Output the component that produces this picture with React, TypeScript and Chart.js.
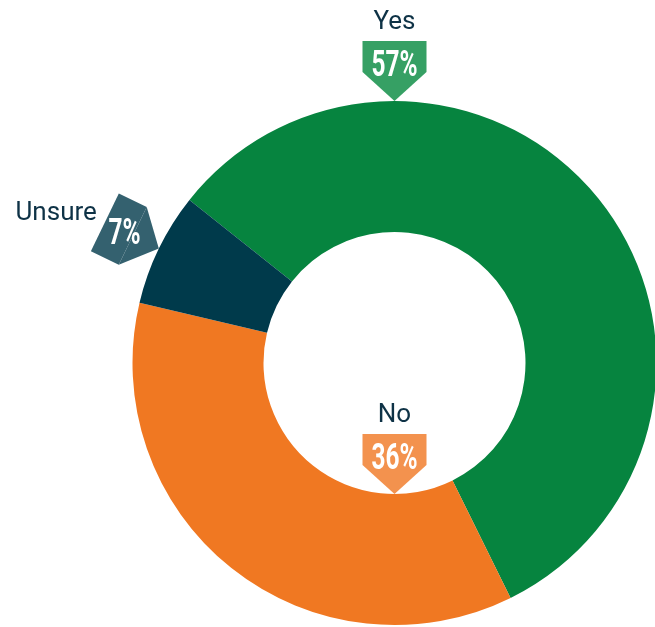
import React, { useEffect, useRef } from "react";
import { Chart, registerables } from "chart.js";

Chart.register(...registerables);

// ---- data ----
const categories = ["Yes", "No", "Unsure"];
const shares = [57, 36, 7];
const sliceColors = ["#06843F", "#F07822", "#003A4B"];
const badgeColors = ["#36A064", "#F3924E", "#34616F"];
const startRotationDeg = -51.5;

// badge placement rules (per category)
const badgeAnchors = ["outerTop", "innerBottom", "outerMid"];
const labelSides = ["above", "above", "left"];

const badgePlugin = {
  id: "badges",
  afterDatasetsDraw(chart: any) {
    const ctx = chart.ctx as CanvasRenderingContext2D;
    const meta = chart.getDatasetMeta(0);
    meta.data.forEach((arc: any, i: number) => {
      const { x, y, startAngle, endAngle, outerRadius, innerRadius } = arc.getProps(
        ["x", "y", "startAngle", "endAngle", "outerRadius", "innerRadius"],
        true
      );
      let a: number, r: number, theta: number;
      const anchor = badgeAnchors[i];
      if (anchor === "outerTop") {
        a = -Math.PI / 2;
        r = outerRadius;
        theta = a + Math.PI / 2;
      } else if (anchor === "innerBottom") {
        a = Math.PI / 2;
        r = innerRadius;
        theta = a - Math.PI / 2;
      } else {
        a = (startAngle + endAngle) / 2;
        r = outerRadius;
        theta = a + Math.PI / 2;
      }
      const tx = x + r * Math.cos(a);
      const ty = y + r * Math.sin(a);

      // badge shape
      ctx.save();
      ctx.translate(tx, ty);
      ctx.rotate(theta);
      ctx.fillStyle = badgeColors[i];
      ctx.fillRect(-32, -60, 64, 31);
      ctx.beginPath();
      ctx.moveTo(-32, -29);
      ctx.lineTo(32, -29);
      ctx.lineTo(0, 0);
      ctx.closePath();
      ctx.fill();
      ctx.restore();

      // percent text (unrotated)
      const lx = 0;
      const ly = -38;
      const cx = tx + lx * Math.cos(theta) - ly * Math.sin(theta);
      const cy = ty + lx * Math.sin(theta) + ly * Math.cos(theta);
      ctx.save();
      ctx.translate(cx, cy);
      ctx.scale(0.66, 1);
      ctx.font = "bold 37px Roboto";
      ctx.fillStyle = "#ffffff";
      ctx.textAlign = "center";
      ctx.textBaseline = "alphabetic";
      ctx.fillText(`${shares[i]}%`, 0, 12.5);
      ctx.restore();

      // category label
      ctx.save();
      ctx.font = "26px Roboto";
      ctx.fillStyle = "#0E3246";
      ctx.textBaseline = "alphabetic";
      if (labelSides[i] === "above") {
        ctx.textAlign = "center";
        ctx.fillText(categories[i], tx, ty - 72);
      } else {
        ctx.textAlign = "right";
        ctx.fillText(categories[i], tx - 62, ty - 29);
      }
      ctx.restore();
    });
  },
};

export default function App() {
  const canvasRef = useRef<HTMLCanvasElement | null>(null);

  useEffect(() => {
    if (!canvasRef.current) return;
    const chart = new Chart(canvasRef.current, {
      type: "doughnut",
      data: {
        labels: categories,
        datasets: [
          {
            data: shares,
            backgroundColor: sliceColors,
            borderWidth: 0,
            hoverOffset: 0,
          },
        ],
      },
      options: {
        responsive: false,
        animation: false,
        devicePixelRatio: 1,
        events: [],
        cutout: "50%",
        rotation: startRotationDeg,
        layout: { padding: { left: 132.5, right: 3.5, top: 101, bottom: 2 } },
        plugins: {
          legend: { display: false },
          tooltip: { enabled: false },
        },
      },
      plugins: [badgePlugin],
    });
    return () => chart.destroy();
  }, []);

  return (
    <div
      style={{
        position: "fixed",
        left: 0,
        top: 0,
        width: 655,
        height: 627,
        overflow: "hidden",
        background: "#ffffff",
      }}
    >
      <canvas ref={canvasRef} width={660} height={627} style={{ display: "block" }} />
    </div>
  );
}
